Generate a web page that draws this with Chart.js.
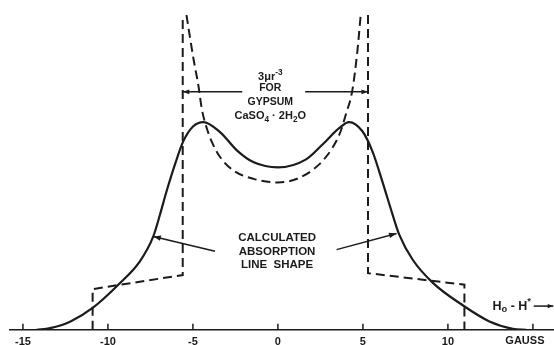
<!DOCTYPE html>
<html>
<head>
<meta charset="utf-8">
<script src="https://cdn.jsdelivr.net/npm/chart.js@4/dist/chart.umd.min.js"></script>
<style>
  html, body { margin: 0; padding: 0; background: #fff; overflow: hidden; }
  #wrap { width: 554px; height: 345px; overflow: hidden; }
</style>
</head>
<body>
<div id="wrap"><canvas id="lineShape" width="554" height="355"></canvas></div>
<script>
// H0 - H* axis, gauss
const tickValues = [-15, -10, -5, 0, 5, 10, 15];
const tickLabels = ['-15', '-10', '-5', '0', '5', '10', ''];

// calculated absorption line shape (solid)
const calcX = [-14.2, -13.4, -12.2, -10.86, -9.39, -8.12, -7.33, -6.94, -6.55, -6.06, -5.57, -4.98, -4.39,
  -3.39, -2.4, -1.42, 0, 1.63, 2.61, 3.6, 4.18, 4.97, 5.56, 6.15, 6.74, 7.13, 7.92, 9.1, 10.87, 12.44, 13.82, 14.6];
const calcY = [0, 0.008, 0.04, 0.107, 0.215, 0.326, 0.445, 0.548, 0.66, 0.787, 0.898, 0.97, 0.99,
  0.941, 0.854, 0.798, 0.774, 0.811, 0.882, 0.961, 0.99, 0.946, 0.85, 0.705, 0.55, 0.455, 0.335, 0.225, 0.117, 0.04, 0.005, 0];

// 3 mu r^-3 doublet for gypsum (dashed, inner)
const pakeX = [-5.38, -4.96, -4.67, -4.47, -4.17, -3.88, -3.39, -2.6, -1.42, 0, 1.23, 2.41, 3.2, 3.69, 3.99, 4.38, 4.68, 4.87];
const pakeY = [1.5, 1.288, 1.16, 1.049, 0.957, 0.894, 0.822, 0.758, 0.719, 0.702, 0.723, 0.787, 0.866, 0.946, 1.025, 1.142, 1.333, 1.5];

// outer dashed steps
const stepX = [-10.9, -10.9, -5.6, -5.6, 0, 5.3, 5.3, 10.97, 10.97];
const stepY = [0, 0.194, 0.261, 1.5, null, 1.5, 0.27, 0.215, 0];

const INK = '#1b1b1b';
const FONT = '"Liberation Sans", Arial, sans-serif';

const toPoints = (xs, ys) => xs.map((x, i) => ({ x: x, y: ys[i] }));

function drawRuns(ctx, runs, cx, cy, size) {
  let w = 0;
  runs.forEach(([t, s]) => {
    ctx.font = `bold ${s ? size * 0.75 : size}px ${FONT}`;
    w += ctx.measureText(t).width;
  });
  let x = cx - w / 2;
  runs.forEach(([t, s]) => {
    ctx.font = `bold ${s ? size * 0.75 : size}px ${FONT}`;
    ctx.fillText(t, x, cy + (s < 0 ? size * 0.3 : s > 0 ? -size * 0.35 : 0));
    x += ctx.measureText(t).width;
  });
}

function arrow(ctx, x1, y1, x2, y2, head) {
  ctx.beginPath();
  ctx.moveTo(x1, y1);
  ctx.lineTo(x2, y2);
  ctx.stroke();
  const a = Math.atan2(y2 - y1, x2 - x1);
  ctx.beginPath();
  ctx.moveTo(x2, y2);
  ctx.lineTo(x2 - head * Math.cos(a - 0.35), y2 - head * Math.sin(a - 0.35));
  ctx.lineTo(x2 - head * Math.cos(a + 0.35), y2 - head * Math.sin(a + 0.35));
  ctx.closePath();
  ctx.fill();
}

const notes = {
  id: 'notes',
  afterDraw(chart) {
    const ctx = chart.ctx;
    const xs = chart.scales.x, ys = chart.scales.y;
    const px = (g) => xs.getPixelForValue(g);
    const py = (v) => ys.getPixelForValue(v);
    const bottom = chart.chartArea.bottom;
    ctx.save();
    ctx.strokeStyle = INK;
    ctx.fillStyle = INK;
    ctx.lineWidth = 1.5;

    // ticks point up from the axis
    tickValues.forEach((t) => {
      ctx.beginPath();
      ctx.moveTo(px(t), bottom);
      ctx.lineTo(px(t), bottom - 6);
      ctx.stroke();
    });

    ctx.textBaseline = 'middle';
    ctx.textAlign = 'left';
    const gx = px(-0.45);
    drawRuns(ctx, [['3\u03bcr', 0], ['-3', 1]], gx, py(1.206), 11);
    drawRuns(ctx, [['FOR', 0]], gx, py(1.152), 10.5);
    drawRuns(ctx, [['GYPSUM', 0]], gx, py(1.086), 10.5);
    drawRuns(ctx, [['CaSO', 0], ['4', -1], [' \u00b7 2H', 0], ['2', -1], ['O', 0]], gx, py(1.019), 11);

    arrow(ctx, px(-2.1), py(1.134), px(-5.6), py(1.134), 7);
    arrow(ctx, px(1.6), py(1.134), px(5.3), py(1.134), 7);

    const cx = px(-0.05);
    drawRuns(ctx, [['CALCULATED', 0]], cx, py(0.436), 11.5);
    drawRuns(ctx, [['ABSORPTION', 0]], cx, py(0.372), 11.5);
    drawRuns(ctx, [['LINE  SHAPE', 0]], cx, py(0.308), 11.5);

    arrow(ctx, px(-3.7), py(0.374), px(-7.33), py(0.445), 8);
    arrow(ctx, px(3.45), py(0.382), px(6.98), py(0.459), 8);

    drawRuns(ctx, [['H', 0], ['o', -1], [' - H', 0], ['*', 1]], px(13.75), py(0.113), 12.5);
    arrow(ctx, px(15.05), py(0.113), px(16.2), py(0.113), 6);

    ctx.textBaseline = 'top';
    drawRuns(ctx, [['GAUSS', 0]], px(14.53), bottom + 6, 11);
    ctx.restore();
  },
};

new Chart(document.getElementById('lineShape').getContext('2d'), {
  type: 'line',
  data: {
    datasets: [
      {
        label: 'calculated',
        data: toPoints(calcX, calcY),
        borderColor: INK,
        borderWidth: 2.2,
        pointRadius: 0,
        cubicInterpolationMode: 'monotone',
        fill: false,
      },
      {
        label: 'gypsum',
        data: toPoints(pakeX, pakeY),
        borderColor: INK,
        borderWidth: 2,
        borderDash: [9, 5],
        pointRadius: 0,
        cubicInterpolationMode: 'monotone',
        fill: false,
      },
      {
        label: 'steps',
        data: toPoints(stepX, stepY),
        borderColor: INK,
        borderWidth: 2,
        borderDash: [9, 5],
        pointRadius: 0,
        tension: 0,
        spanGaps: false,
        fill: false,
      },
    ],
  },
  options: {
    responsive: false,
    animation: false,
    layout: { padding: { top: 15, left: 10, right: 0, bottom: 0 } },
    plugins: { legend: { display: false }, tooltip: { enabled: false } },
    scales: {
      x: {
        type: 'linear',
        min: -15.76,
        max: 16.24,
        afterBuildTicks: (scale) => {
          scale.ticks = tickValues.map((v) => ({ value: v }));
        },
        grid: { display: true, drawOnChartArea: false, drawTicks: false },
        border: { display: true, color: INK, width: 1.6 },
        ticks: {
          padding: 6,
          color: INK,
          maxRotation: 0,
          autoSkip: false,
          font: { family: FONT, size: 11, weight: 'bold' },
          callback: (v) => tickLabels[tickValues.indexOf(v)],
        },
      },
      y: { display: false, min: 0, max: 1.5 },
    },
  },
  plugins: [notes],
});
</script>
</body>
</html>
